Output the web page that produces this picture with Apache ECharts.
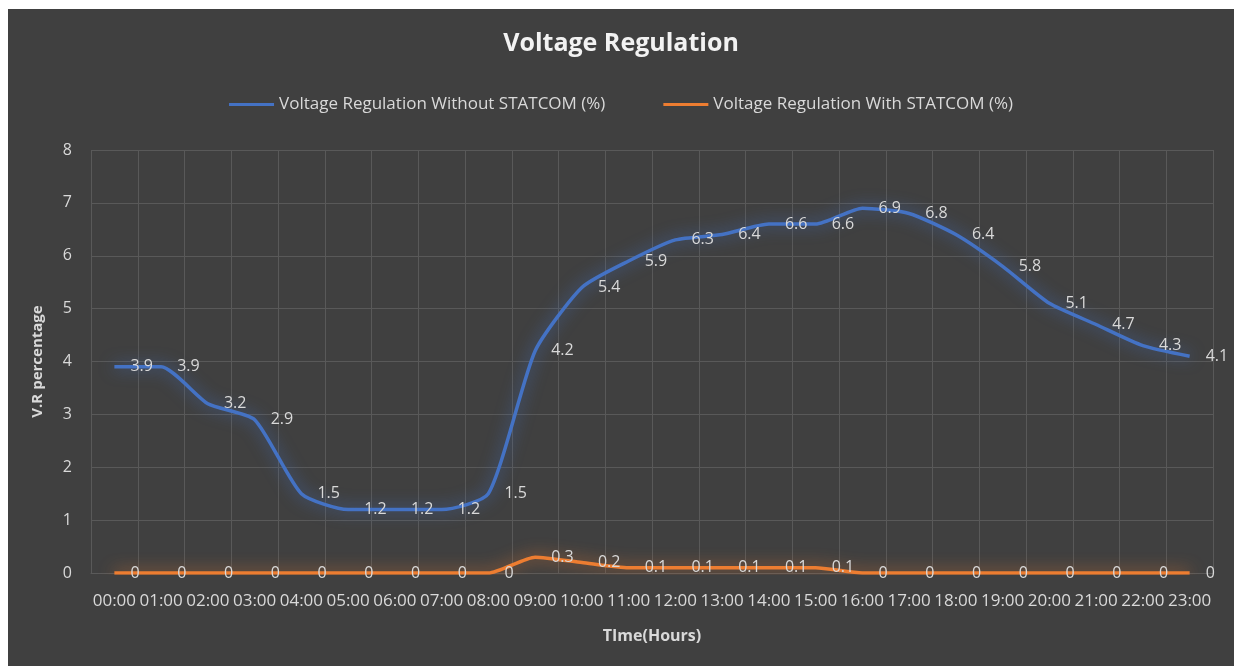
<!DOCTYPE html>
<html>
<head>
<meta charset="utf-8">
<script src="https://cdn.jsdelivr.net/npm/echarts@6/dist/echarts.min.js"></script>
<style>
html,body{margin:0;padding:0;background:#ffffff;}
#chart{position:absolute;left:8px;top:9px;width:1226px;height:657px;}
</style>
</head>
<body>
<div id="chart"></div>
<script>
const categories = ["00:00","01:00","02:00","03:00","04:00","05:00","06:00","07:00","08:00","09:00","10:00","11:00","12:00","13:00","14:00","15:00","16:00","17:00","18:00","19:00","20:00","21:00","22:00","23:00"];
const withoutStatcom = [3.9,3.9,3.2,2.9,1.5,1.2,1.2,1.2,1.5,4.2,5.4,5.9,6.3,6.4,6.6,6.6,6.9,6.8,6.4,5.8,5.1,4.7,4.3,4.1];
const withStatcom = [0,0,0,0,0,0,0,0,0,0.3,0.2,0.1,0.1,0.1,0.1,0.1,0,0,0,0,0,0,0,0];
const seriesNames = ["Voltage Regulation Without STATCOM (%)","Voltage Regulation With STATCOM (%)"];
const seriesColors = ["#4472c4","#ed7d31"];

const FONT = "'Open Sans', 'Noto Sans', sans-serif";
const chart = echarts.init(document.getElementById('chart'), null, {renderer:'canvas'});
const labelStyle = {show:true, position:'right', distance:15, color:'#d9d9d9', fontSize:16, fontFamily:FONT};
chart.setOption({
  backgroundColor:'#404040',
  animation:false,
  title:{text:'Voltage Regulation', left:'center', top:17, textStyle:{color:'#f2f2f2', fontSize:25, fontWeight:'bold', fontFamily:FONT}},
  legend:{top:82, left:'center', itemWidth:45, itemHeight:3, itemGap:58, icon:'rect',
    textStyle:{color:'#d9d9d9', fontSize:17, fontFamily:FONT},
    data:seriesNames.map((n,i)=>({name:n, itemStyle:{color:seriesColors[i], opacity:1}}))},
  grid:{left:83, right:21, top:141, bottom:93},
  xAxis:{type:'category', data:categories, boundaryGap:true,
    axisLine:{show:true, lineStyle:{color:'#5a5a5a'}}, axisTick:{show:false},
    axisLabel:{color:'#d9d9d9', fontSize:17, fontFamily:FONT, margin:20, interval:0},
    splitLine:{show:true, interval:0, lineStyle:{color:'#595959'}},
    name:'TIme(Hours)', nameLocation:'middle', nameGap:55,
    nameTextStyle:{color:'#d9d9d9', fontSize:16, fontWeight:'bold', fontFamily:FONT}},
  yAxis:{type:'value', min:0, max:8, interval:1,
    axisLine:{show:false}, axisTick:{show:false},
    axisLabel:{color:'#d9d9d9', fontSize:16, fontFamily:FONT, margin:19},
    splitLine:{show:true, lineStyle:{color:'#595959'}},
    name:'V.R percentage', nameLocation:'middle', nameGap:46,
    nameTextStyle:{color:'#d9d9d9', fontSize:15, fontWeight:'bold', fontFamily:FONT}},
  series:[
    {name:seriesNames[0], type:'line', data:withoutStatcom, smooth:0.2,
      symbol:'circle', symbolSize:2, showSymbol:true,
      itemStyle:{color:'rgba(0,0,0,0)', borderWidth:0},
      lineStyle:{width:3.5, color:seriesColors[0], shadowColor:'rgba(68,114,196,0.85)', shadowBlur:16},
      label:labelStyle},
    {name:seriesNames[1], type:'line', data:withStatcom, smooth:0.2,
      symbol:'circle', symbolSize:2, showSymbol:true,
      itemStyle:{color:'rgba(0,0,0,0)', borderWidth:0},
      lineStyle:{width:3.5, color:seriesColors[1], shadowColor:'rgba(237,125,49,0.85)', shadowBlur:16},
      label:labelStyle}
  ]
});
</script>
</body>
</html>
